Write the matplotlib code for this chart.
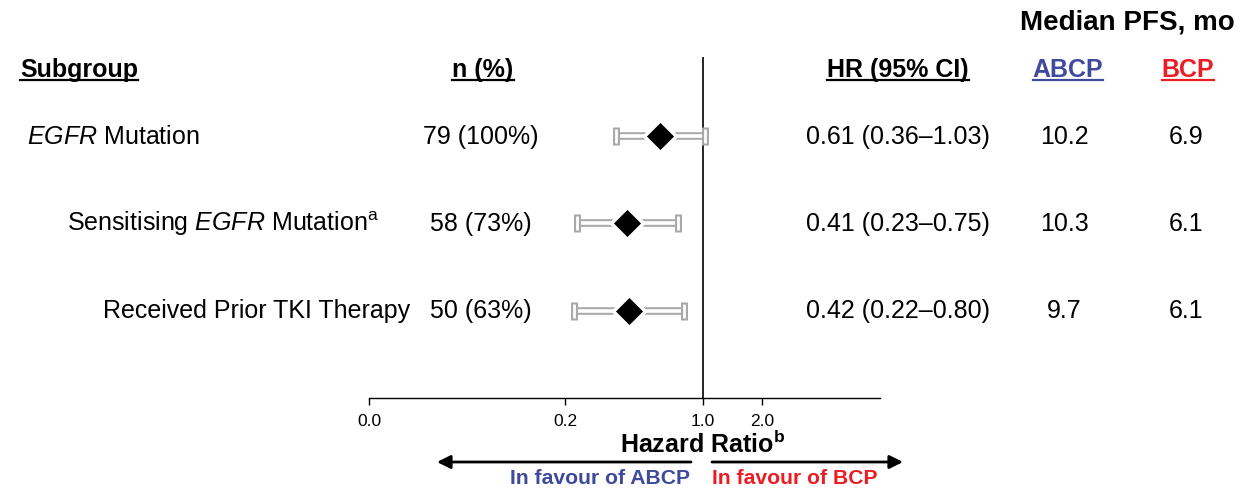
import numpy as np
import matplotlib.pyplot as plt
from matplotlib.lines import Line2D
from matplotlib.patches import FancyArrowPatch

plt.rcParams['font.family'] = ['Liberation Sans', 'DejaVu Sans']
plt.rcParams['mathtext.fontset'] = 'custom'
plt.rcParams['mathtext.rm'] = 'Liberation Sans'
plt.rcParams['mathtext.it'] = 'Liberation Sans:italic'
plt.rcParams['mathtext.bf'] = 'Liberation Sans:bold'

# data
subgroups = [r'$\it{EGFR}$ Mutation',
             r'Sensitising $\it{EGFR}$ Mutation$^{\rm a}$',
             'Received Prior TKI Therapy']
n_pct = ['79 (100%)', '58 (73%)', '50 (63%)']
hr = [0.61, 0.41, 0.42]
ci_lo = [0.36, 0.23, 0.22]
ci_hi = [1.03, 0.75, 0.80]
pfs_abcp = ['10.2', '10.3', '9.7']
pfs_bcp = ['6.9', '6.1', '6.1']
tick_vals = [0.02, 0.2, 1.0, 2.0]
tick_labels = ['0.0', '0.2', '1.0', '2.0']

BLUE = '#3f4a9c'
RED = '#ec1c24'
W, H = 1260, 489

fig = plt.figure(figsize=(12.6, 4.89), dpi=100)

def px(x, y):
    return x / W, 1 - y / H

def ftext(x, y, s, **kw):
    kw.setdefault('fontsize', 18)
    kw.setdefault('va', 'center')
    return fig.text(*px(x, y), s, **kw)

# forest axes, placed over the pixel range of the reference
ax = fig.add_axes([369 / W, 1 - 399 / H, (880 - 369) / W, (399 - 58) / H])
ax.set_xscale('log')
ax.set_xlim(0.02, 8.0)
ax.set_ylim(3.0, -0.908)
for s in ['top', 'left', 'right']:
    ax.spines[s].set_visible(False)
ax.spines['bottom'].set_linewidth(1.0)
ax.set_yticks([])
ax.set_xticks(tick_vals)
ax.set_xticklabels(tick_labels)
ax.xaxis.set_minor_locator(plt.NullLocator())
ax.tick_params(axis='x', length=5, width=1, labelsize=12.5, pad=6)
ax.axvline(1.0, color='black', lw=1.2, zorder=1)

rows = np.arange(len(hr))
for i in rows:
    ax.plot([ci_lo[i], ci_hi[i]], [i, i], color='#a8a8a8', lw=5.5, solid_capstyle='butt', zorder=2)
    ax.plot([ci_lo[i], ci_hi[i]], [i, i], color='white', lw=2.6, solid_capstyle='butt', zorder=3)
    ax.plot([ci_lo[i], ci_hi[i]], [i, i], ls='none', marker='|', ms=13, mew=5, color='#a8a8a8', zorder=3)
    ax.plot([ci_lo[i], ci_hi[i]], [i, i], ls='none', marker='|', ms=10, mew=2, color='white', zorder=4)
    ax.plot(hr[i], i, marker='D', ms=16, color='black', mec='white', mew=2.5, zorder=5)

# headers
ftext(1127, 23, 'Median PFS, mo', fontsize=20, fontweight='bold', ha='center')
heads = [ftext(20, 70, 'Subgroup', fontweight='bold', ha='left'),
         ftext(483, 70, 'n (%)', fontweight='bold', ha='center'),
         ftext(898, 70, 'HR (95% CI)', fontweight='bold', ha='center'),
         ftext(1068, 70, 'ABCP', fontweight='bold', ha='center', color=BLUE),
         ftext(1188, 70, 'BCP', fontweight='bold', ha='center', color=RED)]

label_x = [27, 67, 103]
row_y = [137, 224, 311]
for i in rows:
    ftext(label_x[i], row_y[i], subgroups[i], ha='left')
    ftext(481, row_y[i], n_pct[i], ha='center')
    ftext(898, row_y[i], '%.2f (%.2f\u2013%.2f)' % (hr[i], ci_lo[i], ci_hi[i]), ha='center')
    ftext(1064, row_y[i], pfs_abcp[i], ha='center')
    ftext(1186, row_y[i], pfs_bcp[i], ha='center')

ftext(703, 444, r'Hazard Ratio$^{\bf b}$', fontweight='bold', ha='center')
ftext(690, 479, 'In favour of ABCP', fontsize=15.2, fontweight='bold', ha='right', color=BLUE)
ftext(712, 479, 'In favour of BCP', fontsize=15.2, fontweight='bold', ha='left', color=RED)

fig.add_artist(FancyArrowPatch(px(691, 463), px(437, 463), transform=fig.transFigure,
               arrowstyle='-|>,head_length=8,head_width=4', lw=2, color='black', shrinkA=0, shrinkB=0))
fig.add_artist(FancyArrowPatch(px(712, 463), px(903, 463), transform=fig.transFigure,
               arrowstyle='-|>,head_length=8,head_width=4', lw=2, color='black', shrinkA=0, shrinkB=0))

# underline the column headers
fig.canvas.draw()
r = fig.canvas.get_renderer()
for t in heads:
    bb = t.get_window_extent(r)
    yl = 1 - 81 / H
    fig.add_artist(Line2D([bb.x0 / W, bb.x1 / W], [yl, yl], transform=fig.transFigure,
                          color=t.get_color(), lw=1.6))

fig.savefig('out.png', dpi=100)
